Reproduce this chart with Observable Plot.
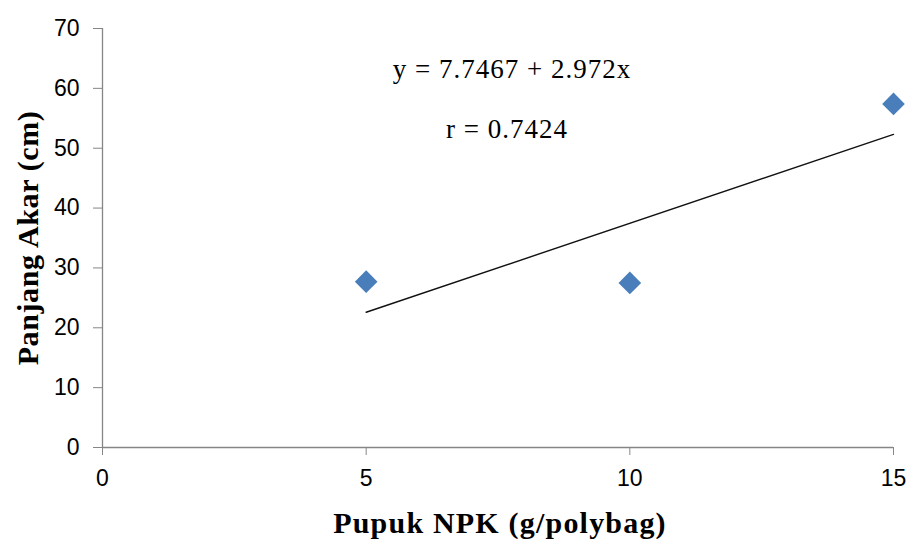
<!DOCTYPE html>
<html>
<head>
<meta charset="utf-8">
<script src="https://cdn.jsdelivr.net/npm/d3@7"></script>
<script src="https://cdn.jsdelivr.net/npm/@observablehq/plot@0.6"></script>
<style>
  html, body { margin: 0; padding: 0; background: #fff; }
</style>
</head>
<body>
<div id="chart"></div>
<script>
// Data
const npk = [5, 10, 15];                 // Pupuk NPK (g/polybag)
const panjangAkar = [27.7, 27.5, 57.4];   // Panjang Akar (cm)
const trendX = [5, 15];
const trendY = [22.6, 52.3];              // y = 7.7467 + 2.972x at x = 5 and 15
const xTicks = [0, 5, 10, 15];
const yTicks = [0, 10, 20, 30, 40, 50, 60, 70];
const xTitle = "Pupuk NPK (g/polybag)";
const yTitle = "Panjang Akar (cm)";
const equationText = "y = 7.7467 + 2.972x";
const rText = "r = 0.7424";

const points = npk.map((x, i) => ({x, y: panjangAkar[i]}));
const trend = trendX.map((x, i) => ({x, y: trendY[i]}));

const axisColor = "#868686";
const tickFont = "'Liberation Sans', Arial, sans-serif";
const serif = "'Liberation Serif', 'Times New Roman', serif";

const chart = Plot.plot({
  width: 908,
  height: 539,
  marginLeft: 102,
  marginRight: 15,
  marginTop: 28,
  marginBottom: 92,
  style: {background: "#fff", color: "#000", fontFamily: tickFont, fontSize: "23px"},
  x: {domain: [0, 15]},
  y: {domain: [0, 70]},
  marks: [
    Plot.ruleX([0], {stroke: axisColor, strokeWidth: 1.3}),
    Plot.ruleY([0], {stroke: axisColor, strokeWidth: 1.3}),
    Plot.axisY(yTicks, {tickSize: 9, tickPadding: 14, stroke: axisColor, fill: "#000", fontSize: 23, fontFamily: tickFont, label: null}),
    Plot.axisX(xTicks, {tickSize: 8, tickPadding: 14, stroke: axisColor, fill: "#000", fontSize: 23, fontFamily: tickFont, label: null}),
    Plot.line(trend, {x: "x", y: "y", stroke: "#111", strokeWidth: 1.4}),
    Plot.dot(points, {x: "x", y: "y", symbol: "diamond2", r: 10.2, fill: "#4a7ebb", stroke: "none"}),
    Plot.text([equationText], {text: d => d, frameAnchor: "top", lineAnchor: "middle", textAnchor: "middle", dx: 14, dy: 41, fontSize: 27, fontFamily: serif, fill: "#000"}),
    Plot.text([rText], {text: d => d, frameAnchor: "top", lineAnchor: "middle", textAnchor: "middle", dx: 9, dy: 101, fontSize: 27, fontFamily: serif, fill: "#000"}),
    Plot.text([xTitle], {text: d => d, frameAnchor: "bottom", lineAnchor: "middle", textAnchor: "middle", dx: 2, dy: 76, fontSize: 30, fontWeight: "bold", fontFamily: serif, fill: "#000"}),
    Plot.text([yTitle], {text: d => d, frameAnchor: "left", lineAnchor: "middle", textAnchor: "middle", dx: -74, rotate: -90, fontSize: 30, fontWeight: "bold", fontFamily: serif, fill: "#000"})
  ]
});
// wide letter spacing like the reference's rendering
d3.select(chart).selectAll("text").each(function() {
  const t = this.textContent;
  if (t === equationText || t === rText) this.style.letterSpacing = "1px";
  if (t === xTitle) this.style.letterSpacing = "1.2px";
  if (t === yTitle) this.style.letterSpacing = "0.6px";
  if (!isNaN(+t) && t.trim() !== "") this.style.fontSize = "23px";
});
document.getElementById("chart").appendChild(chart);
</script>
</body>
</html>
